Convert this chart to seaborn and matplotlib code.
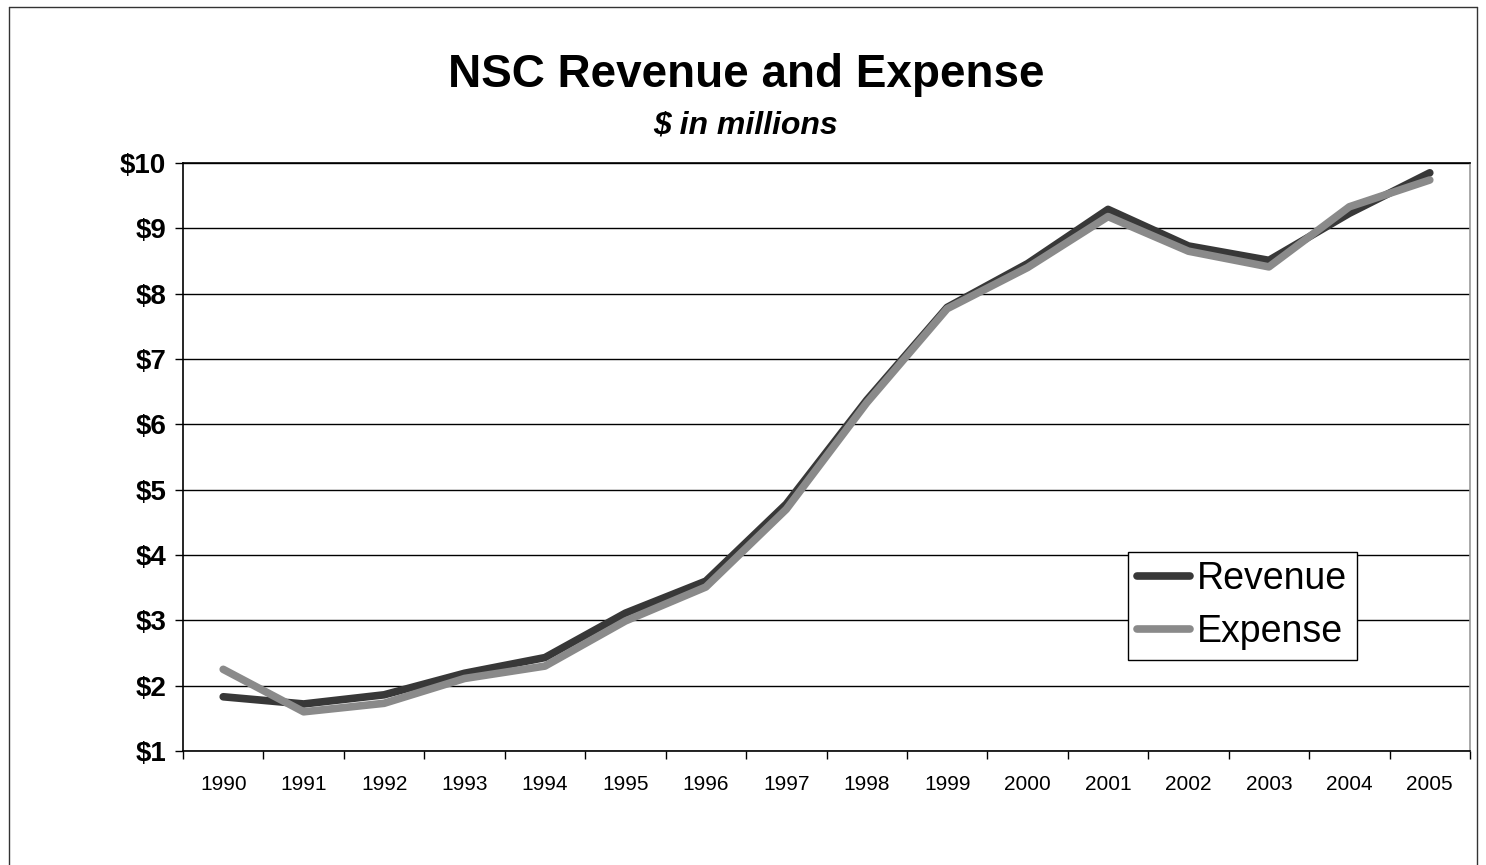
import matplotlib
matplotlib.use("Agg")
import matplotlib.pyplot as plt
from matplotlib.lines import Line2D
import seaborn as sns
import pandas as pd

years = ["1990", "1991", "1992", "1993", "1994", "1995", "1996", "1997",
         "1998", "1999", "2000", "2001", "2002", "2003", "2004", "2005"]
revenue = [1.83, 1.72, 1.86, 2.19, 2.43, 3.11, 3.60, 4.78,
           6.37, 7.79, 8.46, 9.29, 8.73, 8.51, 9.23, 9.85]
expense = [2.25, 1.60, 1.73, 2.11, 2.30, 2.99, 3.51, 4.70,
           6.33, 7.77, 8.40, 9.18, 8.65, 8.41, 9.33, 9.74]
yticks = [1, 2, 3, 4, 5, 6, 7, 8, 9, 10]
ytick_labels = ["$1", "$2", "$3", "$4", "$5", "$6", "$7", "$8", "$9", "$10"]

df = pd.DataFrame({
    "idx": list(range(len(years))) * 2,
    "value": revenue + expense,
    "series": ["Revenue"] * len(years) + ["Expense"] * len(years),
})

sns.set_theme(style="white")
plt.rcParams["font.family"] = ["Liberation Sans", "DejaVu Sans"]
plt.rcParams["text.color"] = "black"
plt.rcParams["xtick.color"] = "black"
plt.rcParams["ytick.color"] = "black"
plt.rcParams["xtick.labelcolor"] = "black"
plt.rcParams["ytick.labelcolor"] = "black"

fig = plt.figure(figsize=(14.86, 8.65), dpi=100)
ax = fig.add_axes([183 / 1486, 1 - 751 / 865, (1470 - 183) / 1486, (751 - 163) / 865])

for y in yticks:
    ax.axhline(y, color="black", lw=1.0, zorder=1)

sns.lineplot(data=df, x="idx", y="value", hue="series",
             palette={"Revenue": "#383838", "Expense": "#8a8a8a"},
             linewidth=5.5, ax=ax, legend=False, zorder=3,
             solid_capstyle="round", solid_joinstyle="round")

ax.set_xlim(-0.5, len(years) - 0.5)
ax.set_ylim(1, 10)
ax.set_yticks(yticks)
ax.set_yticklabels(ytick_labels, fontsize=20, fontweight="bold", color="black")
ax.set_xticks([i - 0.5 for i in range(len(years) + 1)])
ax.set_xticklabels([])
ax.set_xticks(list(range(len(years))), minor=True)
ax.set_xticklabels(years, minor=True, fontsize=15, color="black")
ax.tick_params(axis="x", which="major", direction="out", length=6, width=1, color="black", bottom=True)
ax.tick_params(axis="x", which="minor", length=0, pad=17, bottom=True)
ax.tick_params(axis="y", direction="out", length=6, width=1, color="black", left=True, pad=6)
ax.set_xlabel("")
ax.set_ylabel("")
for side in ["left", "bottom", "top"]:
    ax.spines[side].set_color("black")
    ax.spines[side].set_linewidth(1.2)
ax.spines["right"].set_color("#999999")
ax.spines["right"].set_linewidth(1.2)

handles = [Line2D([0], [0], color="#383838", lw=5.5, solid_capstyle="round"),
           Line2D([0], [0], color="#8a8a8a", lw=5.5, solid_capstyle="round")]
leg = ax.legend(handles, ["Revenue", "Expense"], loc="upper left",
                bbox_to_anchor=((1128 - 183) / (1470 - 183), (751 - 552) / (751 - 163)),
                fontsize=27, frameon=True, fancybox=False, framealpha=1,
                edgecolor="black", handlelength=1.4, handletextpad=0.2,
                borderpad=0.25, labelspacing=0.45, borderaxespad=0)
leg.get_frame().set_linewidth(1.0)
for t in leg.get_texts():
    t.set_color("black")
leg.set_zorder(5)

fig.text(746 / 1486, 1 - 75 / 865, "NSC Revenue and Expense", ha="center", va="center",
         fontsize=33, fontweight="bold", color="black")
fig.text(745 / 1486, 1 - 125 / 865, "$ in millions", ha="center", va="center",
         fontsize=23, fontweight="bold", fontstyle="italic", color="black")

# outer chart frame
W, H = 1486, 865
fx = lambda x: x / W
fy = lambda y: 1 - y / H
fig.add_artist(Line2D([fx(9), fx(1477)], [fy(7), fy(7)], color="#333333", lw=1.0))
fig.add_artist(Line2D([fx(9), fx(9)], [fy(7), fy(865)], color="#333333", lw=1.0))
fig.add_artist(Line2D([fx(1477), fx(1477)], [fy(7), fy(865)], color="#333333", lw=1.0))

fig.savefig("out.png", dpi=100, facecolor="white")
